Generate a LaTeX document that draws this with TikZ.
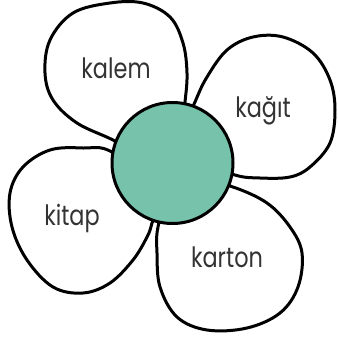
\documentclass[tikz,border=0pt]{standalone}
\usepackage{fontspec}
\setmainfont{Poppins}[FakeStretch=0.8]
\definecolor{centergreen}{RGB}{118,194,170}
\begin{document}
\begin{tikzpicture}[x=1pt,y=-1pt,
  petal/.style={draw=black,fill=white,line width=3pt,line join=round},
  word/.style={font=\fontsize{28}{28}\selectfont,text=black!80}]
\useasboundingbox (0,0) rectangle (338,338);
% kalem petal
\draw[petal] plot[smooth cycle,tension=0.6] coordinates {(150,160) (113,140) (77,123) (53,100) (45,73) (50,40) (73,13) (110,3) (143,3) (170,17) (183,43) (187,73) (185,102) (180,140)};
% kagit petal
\draw[petal] plot[smooth cycle,tension=0.6] coordinates {(180,140) (195,102) (207,77) (227,50) (253,37) (283,37) (313,53) (330,80) (335,110) (330,143) (310,167) (290,177) (260,178) (235,175) (200,160)};
% kitap petal
\draw[petal] plot[smooth cycle,tension=0.6] coordinates {(160,190) (112,152) (83,148) (50,150) (23,167) (10,193) (12,227) (27,260) (53,287) (83,293) (110,283) (133,260) (147,237) (152,223)};
% karton petal
\draw[petal] plot[smooth cycle,tension=0.6] coordinates {(200,180) (233,187) (267,203) (290,227) (302,253) (298,287) (280,313) (247,328) (207,330) (177,317) (160,287) (157,253) (158,227) (170,190)};
\node[draw=black,fill=centergreen,line width=3pt,circle,minimum size=121pt,inner sep=0pt] (center) at (172.5,163) {};
\node[word] (kalem) at (116,68) {kalem};
\node[word] (kagit) at (263,111) {kağıt};
\node[word] (kitap) at (72,218) {kitap};
\node[word] (karton) at (227,257) {karton};
\end{tikzpicture}
\end{document}
